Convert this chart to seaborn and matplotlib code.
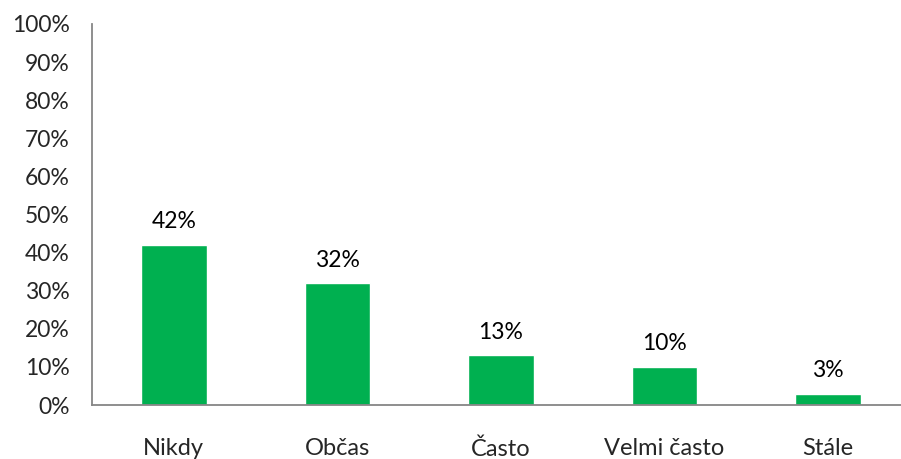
import numpy as np
import pandas as pd
import matplotlib
matplotlib.use("Agg")
import matplotlib.pyplot as plt
import seaborn as sns

categories = ["Nikdy", "Občas", "Často", "Velmi často", "Stále"]
values = [42, 32, 13, 10, 3]
value_labels = ["42%", "32%", "13%", "10%", "3%"]
y_ticks = [0, 10, 20, 30, 40, 50, 60, 70, 80, 90, 100]
y_tick_labels = [f"{t}%" for t in y_ticks]

sns.set_style("white")
plt.rcParams["font.family"] = ["Lato", "DejaVu Sans"]

df = pd.DataFrame({"kategorie": categories, "podil": values})

fig = plt.figure(figsize=(9.01, 4.59), dpi=100)
ax = fig.add_axes([92 / 901, 54 / 459, 818 / 901, 381 / 459])

sns.barplot(data=df, x="kategorie", y="podil", color="#00B050",
            width=0.4, saturation=1, ax=ax)

ax.set_xlim(-0.5, 4.5)
ax.set_ylim(0, 100)
ax.set_yticks(y_ticks)
ax.set_yticklabels(y_tick_labels, fontsize=16.5)
ax.set_xlabel("")
ax.set_ylabel("")
ax.tick_params(axis="x", which="major", length=0, pad=24, labelsize=17)
ax.set_xticks(np.arange(-0.5, 5, 1), minor=True)
ax.tick_params(axis="x", which="minor", length=6, width=1.3, color="#868686",
               direction="out")
ax.tick_params(axis="y", length=5, width=1.3, color="#868686", direction="out",
               pad=11)

for side in ["top", "right"]:
    ax.spines[side].set_visible(False)
for side in ["left", "bottom"]:
    ax.spines[side].set_color("#868686")
    ax.spines[side].set_linewidth(1.3)

for i, (v, lab) in enumerate(zip(values, value_labels)):
    ax.annotate(lab, (i, v), xytext=(0, 9), textcoords="offset points",
                ha="center", va="bottom", fontsize=16.5, color="black")

fig.savefig("out.png", dpi=100)
